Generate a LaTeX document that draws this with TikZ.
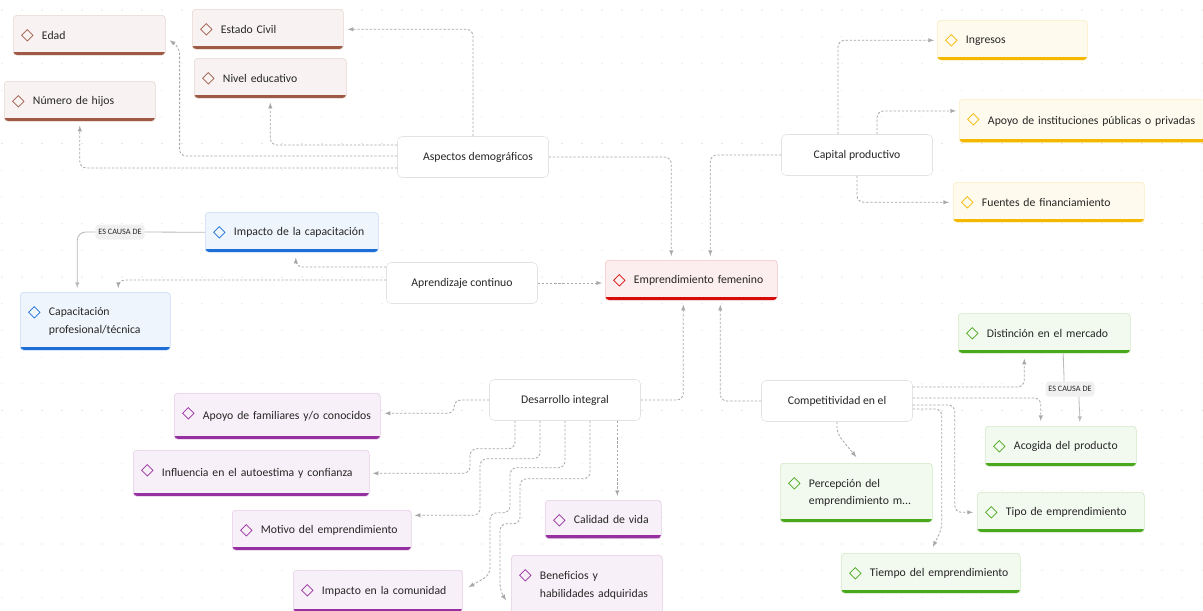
\documentclass[tikz,border=0pt]{standalone}
\usepackage{fontspec}
\setmainfont{Carlito}
\usepackage{xcolor}
\usepackage{tikz}
\usetikzlibrary{calc}
\usetikzlibrary{positioning}

\definecolor{brownbar}{HTML}{9E5A45}
\definecolor{yellowbar}{HTML}{F5B800}
\definecolor{bluebar}{HTML}{1B6FD6}
\definecolor{redbar}{HTML}{D60A0A}
\definecolor{purplebar}{HTML}{962FA0}
\definecolor{greenbar}{HTML}{4AA81C}
\definecolor{txt}{HTML}{262626}
\definecolor{linkgray}{HTML}{A8A8A8}

\newcommand{\cardpad}{\hspace*{0.86cm}}

\tikzset{
  card/.style 2 args={draw=#1!25, fill=#1!7, rounded corners=3pt, line width=0.5pt,
    anchor=north west, inner xsep=0pt, inner ysep=2pt, align=left, text width=#2,
    minimum height=1.2cm, text=txt, font=\fontsize{10}{15}\selectfont,
    path picture={
      \fill[#1, sharp corners] ([yshift=0.11cm]path picture bounding box.south west) rectangle (path picture bounding box.south east);
      \draw[#1, sharp corners, line width=0.6pt] ([xshift=0.42cm,yshift=-0.6cm]path picture bounding box.north west)
        +(-0.17cm,0) -- +(0,0.17cm) -- +(0.17cm,0) -- +(0,-0.17cm) -- cycle;
    }},
  topic/.style={draw=gray!22, fill=white, rounded corners=4pt, line width=0.5pt,
    minimum width=4.53cm, minimum height=1.23cm, text=txt, font=\fontsize{10}{15}\selectfont},
  link/.style={draw=linkgray, line width=0.7pt, dash pattern=on 2pt off 1.5pt, rounded corners=0.2cm, -latex},
  causa/.style={draw=gray!55, line width=0.7pt, rounded corners=0.25cm, -latex},
  causelabel/.style={fill=gray!12, rounded corners=3pt, text=txt, font=\fontsize{7}{8}\selectfont, inner sep=2.5pt, minimum height=0.45cm}
}

\begin{document}
\begin{tikzpicture}[x=0.03cm, y=-0.03cm]
	\useasboundingbox (0,0) rectangle (1203,610);
	\fill[white] (0,0) rectangle (1203,610);
	% dotted background
	\foreach \x in {2,22,...,1202}
		\foreach \y in {10,36.7,...,610}
			\fill[gray!35] (\x,\y) circle (0.45pt);

	% central topics
	\node[card={redbar}{5.16cm}] (empr) at (605,260) {\cardpad Emprendimiento femenino};
	\node[topic] (asp) at (473,157) {\hspace*{0.3cm}Aspectos demográficos};
	\node[topic] (cap) at (857,155) {Capital productivo};
	\node[topic] (apr) at (462,283) {Aprendizaje continuo};
	\node[topic] (des) at (565,400) {Desarrollo integral};
	\node[topic] (comp) at (837,401) {Competitividad en el};

	% aspectos demograficos
	\node[card={brownbar}{4.56cm}] (edad) at (13,15) {\cardpad Edad};
	\node[card={brownbar}{4.53cm}] (civil) at (192,9) {\cardpad Estado Civil};
	\node[card={brownbar}{4.56cm}] (nivel) at (194,58) {\cardpad Nivel educativo};
	\node[card={brownbar}{4.53cm}] (hijos) at (4,81) {\cardpad Número de hijos};

	% capital productivo
	\node[card={yellowbar}{4.5cm}] (ingresos) at (937,20) {\cardpad Ingresos};
	\node[card={yellowbar}{7.8cm}, minimum height=1.3cm] (apoinst) at (959,99) {\cardpad Apoyo de instituciones públicas o privadas};
	\node[card={yellowbar}{5.73cm}] (fuentes) at (953,182) {\cardpad Fuentes de financiamiento};

	% aprendizaje continuo
	\node[card={bluebar}{5.19cm}] (impcap) at (205,212) {\cardpad Impacto de la capacitación};
	\node[card={bluebar}{4.5cm}, minimum height=1.74cm] (capac) at (20,292) {\cardpad Capacitación\\\cardpad profesional/técnica};
	\node[causelabel] (causa1) at (120,232) {ES CAUSA DE};

	% desarrollo integral
	\node[card={purplebar}{6.18cm}, minimum height=1.38cm] (apofam) at (174,393) {\cardpad Apoyo de familiares y/o conocidos};
	\node[card={purplebar}{7.08cm}, minimum height=1.38cm] (influ) at (133,450) {\cardpad Influencia en el autoestima y confianza};
	\node[card={purplebar}{5.37cm}] (motivo) at (232,510) {\cardpad Motivo del emprendimiento};
	\node[card={purplebar}{3.48cm}, minimum height=1.15cm] (calidad) at (545,500) {\cardpad Calidad de vida};
	\node[card={purplebar}{5.07cm}, minimum height=1.26cm] (impcom) at (293,570) {\cardpad Impacto en la comunidad};
	\node[card={purplebar}{4.53cm}, minimum height=1.8cm] (benef) at (511,555) {\cardpad Beneficios y\\\cardpad habilidades adquiridas};

	% competitividad
	\node[card={greenbar}{5.16cm}] (distin) at (958,313) {\cardpad Distinción en el mercado};
	\node[card={greenbar}{4.53cm}] (acogida) at (985,426) {\cardpad Acogida del producto};
	\node[card={greenbar}{4.56cm}, minimum height=1.77cm] (percep) at (780,463) {\cardpad Percepción del\\\cardpad emprendimiento m...};
	\node[card={greenbar}{5.01cm}] (tipo) at (977,492) {\cardpad Tipo de emprendimiento};
	\node[card={greenbar}{5.37cm}] (tiempo) at (841,553) {\cardpad Tiempo del emprendimiento};
	\node[causelabel] (causa2) at (1070,389) {ES CAUSA DE};

	% links to the centre
	\draw[link] (asp.east) -| ([shift={(-20,-4)}]empr.north);
	\draw[link] (cap.west) -| ([shift={(19,-4)}]empr.north);
	\draw[link] (apr.east) -- ([shift={(-3,0)}]apr.east -| empr.west);
	\draw[link] (des.east) -| ([shift={(-8,4)}]empr.south);
	\draw[link] (comp.west) -| ([shift={(29,4)}]empr.south);

	% aspectos demograficos
	\draw[link] (asp.north) |- ([shift={(4,0)}]civil.east);
	\draw[link] ([shift={(0,-1)}]asp.west) -| ([shift={(14,12)}]edad.east) -- ([shift={(4,5)}]edad.east);
	\draw[link] ([shift={(0,-12)}]asp.west) -| ([shift={(0,4)}]nivel.south);
	\draw[link] ([shift={(0,11)}]asp.west) -| ([shift={(0,4)}]hijos.south);

	% capital productivo
	\draw[link] ([shift={(-19,0)}]cap.north) |- ([shift={(-3,0)}]ingresos.west);
	\draw[link] ([shift={(20,0)}]cap.north) |- ([shift={(-3,-10)}]apoinst.west);
	\draw[link] (cap.south) |- ([shift={(-4,0)}]fuentes.west);

	% aprendizaje continuo
	\draw[link] ([shift={(0,-16)}]apr.west) -| ([shift={(4,5)}]impcap.south);
	\draw[link] ([shift={(0,-3)}]apr.west) -| ([shift={(23,-4)}]capac.north);
	\draw[causa, -] (impcap.west) -- (causa1.east);
	\draw[causa] (causa1.west) -| ([shift={(-18,-4)}]capac.north);

	% desarrollo integral
	\draw[link] (des.west) -- ++(-35,0) |- ([shift={(4,-3)}]apofam.east);
	\draw[link] ([shift={(-50,0)}]des.south) |- ++(-45,28) |- ([shift={(3,0)}]influ.east);
	\draw[link] ([shift={(-25,0)}]des.south) |- ++(-60,38) |- ([shift={(3,-15)}]motivo.east);
	\draw[link] (des.south) |- ++(-55,47) |- ++(-20,45) -- ++(0,62) -- ([shift={(6,-4)}]impcom.east);
	\draw[link] ([shift={(25,0)}]des.south) |- ++(-70,58) |- ++(-20,45) -- ++(0,67) -- ([shift={(-5,15)}]benef.west);
	\draw[link] ([shift={(14,0)}]calidad.north |- des.south) -- ([shift={(14,-4)}]calidad.north);

	% competitividad
	\draw[link] ([shift={(0,-14)}]comp.east) -| ([shift={(-20,5)}]distin.south);
	\draw[link] ([shift={(0,-3)}]comp.east) -| ([shift={(-20,-5)}]acogida.north);
	\draw[link] ([shift={(0,4)}]comp.east) -| ++(42,50) |- ([shift={(-4,0)}]tipo.west);
	\draw[link] ([shift={(0,8)}]comp.east) -| ++(29,120) -- ([shift={(2,-6)}]tiempo.north);
	\draw[link] (comp.south) -- ++(0,12) -- ([shift={(0,-6)}]percep.north);
	\draw[causa, -] ([shift={(19,0)}]distin.south) to[out=-90,in=90] ([shift={(-6,0)}]causa2.north);
	\draw[causa] ([shift={(9,0)}]causa2.south) to[out=-90,in=90] ([shift={(19,-4)}]acogida.north);
\end{tikzpicture}
\end{document}
